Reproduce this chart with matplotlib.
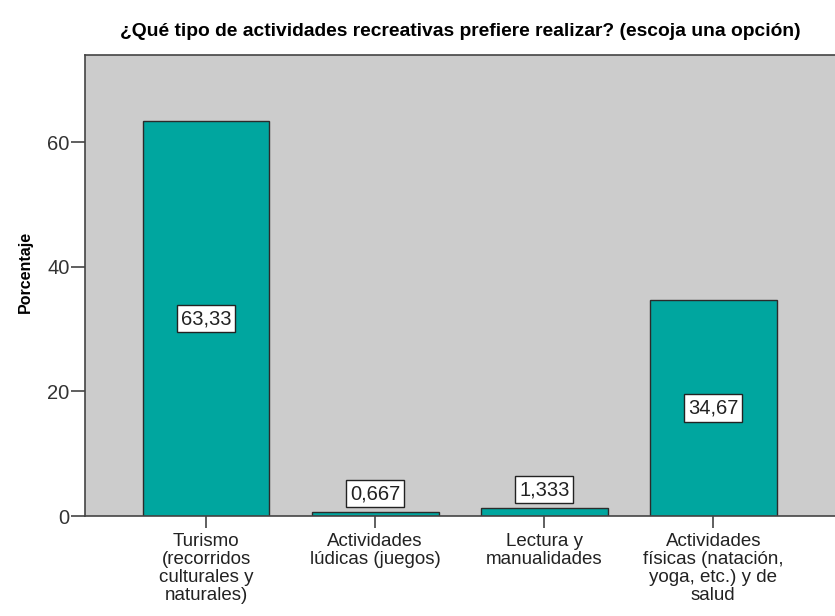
import matplotlib
matplotlib.use("Agg")
import matplotlib.pyplot as plt

categories = ["Turismo\n(recorridos\nculturales y\nnaturales)",
              "Actividades\nlúdicas (juegos)",
              "Lectura y\nmanualidades",
              "Actividades\nfísicas (natación,\nyoga, etc.) y de\nsalud"]
values = [63.33, 0.667, 1.333, 34.67]
value_labels = ["63,33", "0,667", "1,333", "34,67"]
yticks = [0, 20, 40, 60]

plt.rcParams['font.family'] = ['Liberation Sans', 'DejaVu Sans']

fig = plt.figure(figsize=(8.35, 6.16), dpi=100)
ax = fig.add_axes([85/835, 100/616, 750/835, 461/616])
ax.set_facecolor('#CCCCCC')

x = list(range(len(values)))
ax.bar(x, values, width=0.75, color='#00A69F', edgecolor='#2B2B2B', linewidth=1.0, zorder=2)

ax.set_xlim(-0.716, 3.72)
ax.set_ylim(0, 74)
ax.set_yticks(yticks)
ax.set_yticklabels([str(t) for t in yticks], fontsize=14.5, color='#333333')
ax.set_xticks(x)
ax.set_xticklabels(categories, fontsize=13.5, color='#222222', linespacing=1.07)

ax.tick_params(axis='y', direction='out', length=10, width=1.2, color='#444444', pad=1)
ax.tick_params(axis='x', direction='out', length=8.5, width=1.2, color='#444444', pad=4)

for s in ['left', 'bottom', 'top']:
    ax.spines[s].set_color('#444444')
    ax.spines[s].set_linewidth(1.2)
ax.spines['right'].set_visible(False)

box = dict(boxstyle='square,pad=0.2', facecolor='white', edgecolor='#222222', linewidth=1.0)
for xi, v, lab in zip(x, values, value_labels):
    if v > 10:
        ax.text(xi, v / 2, lab, ha='center', va='center', fontsize=14.5, color='#222222', bbox=box, zorder=3)
    else:
        ax.annotate(lab, (xi, v), xytext=(0, 13), textcoords='offset points',
                    ha='center', va='center', fontsize=14.5, color='#222222', bbox=box, zorder=3)

ax.set_ylabel('Porcentaje', fontsize=11.5, fontweight='bold')
ax.yaxis.set_label_coords(-0.069, 0.529)
ax.set_title('¿Qué tipo de actividades recreativas prefiere realizar? (escoja una opción)',
             fontsize=13.9, fontweight='bold', pad=14)

fig.savefig('out.png', dpi=100)
